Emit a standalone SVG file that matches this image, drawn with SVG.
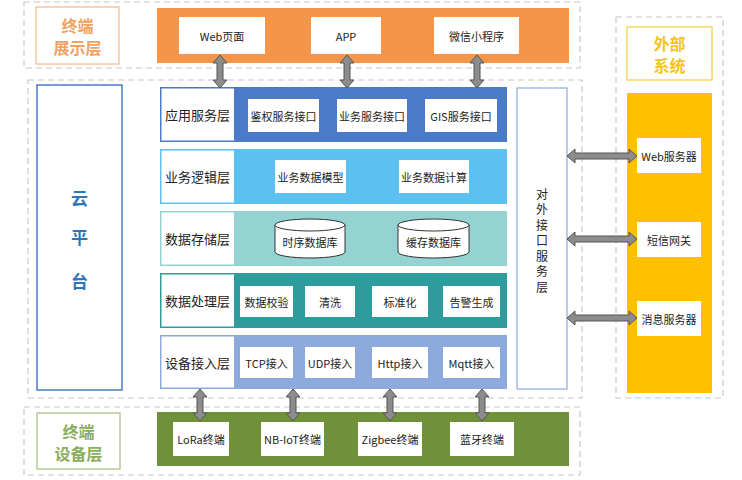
<svg xmlns="http://www.w3.org/2000/svg" width="742" height="480" viewBox="0 0 742 480">
<style>
.dash{fill:none;stroke:#c8c8c8;stroke-width:1.2;stroke-dasharray:6 4}
.wb{fill:#ffffff}
.t{font-family:"Noto Sans CJK SC","Liberation Sans",sans-serif;font-size:11px;fill:#222;text-anchor:middle;dominant-baseline:central}
.lt{font-family:"Noto Sans CJK SC","Liberation Sans",sans-serif;font-size:13px;fill:#222;text-anchor:middle;dominant-baseline:central}
.vt{font-family:"Noto Sans CJK SC","Liberation Sans",sans-serif;font-size:12px;fill:#222;text-anchor:middle;dominant-baseline:central}
.big{font-family:"Noto Sans CJK SC","Liberation Sans",sans-serif;font-size:16px;font-weight:bold;text-anchor:middle;dominant-baseline:central}
.arr{fill:#8c8c8c;stroke:#555;stroke-width:1}
.cyl{fill:#fff;stroke:#333;stroke-width:1}
</style>
<rect width="742" height="480" fill="#ffffff"/>

<!-- dashed containers -->
<rect class="dash" x="24" y="2" width="556" height="66"/>
<rect class="dash" x="28" y="80" width="554" height="318"/>
<rect class="dash" x="616" y="17" width="107" height="381"/>
<rect class="dash" x="24" y="407" width="556" height="68"/>

<!-- 终端展示层 -->
<g id="display-layer">
<rect x="36" y="7" width="83" height="57" fill="#fff" stroke="#f4c8a0" stroke-width="1.5"/>
<text class="big" x="77.5" y="24.5" fill="#f3a25e">终端</text>
<text class="big" x="77.5" y="46.5" fill="#f3a25e">展示层</text>
<rect x="157" y="8" width="412" height="55" fill="#f4954a"/>
</g>
<g id="web-page"><rect class="wb" x="179" y="17" width="86" height="37"/><text class="t" x="222" y="35.5">Web页面</text></g>
<g id="app"><rect class="wb" x="311" y="17" width="70" height="37"/><text class="t" x="346" y="35.5">APP</text></g>
<g id="wechat"><rect class="wb" x="434" y="17" width="85" height="37"/><text class="t" x="476.5" y="35.5">微信小程序</text></g>

<!-- 云平台 -->
<g id="cloud">
<rect x="37" y="85" width="85" height="305" fill="#fff" stroke="#4a7cc0" stroke-width="1.5"/>
<text class="big" x="79.5" y="197" fill="#2e75b6" style="font-size:17px">云</text>
<text class="big" x="79.5" y="236" fill="#2e75b6" style="font-size:17px">平</text>
<text class="big" x="79.5" y="280" fill="#2e75b6" style="font-size:17px">台</text>
</g>

<!-- 应用服务层 -->
<g id="app-service-layer">
<rect x="160" y="87" width="347" height="55" fill="#4a7ac8"/>
<rect x="160.75" y="87.75" width="74" height="53.5" fill="#fff" stroke="#4a7ac8" stroke-width="1.5"/>
<text class="lt" x="197.5" y="114.5">应用服务层</text>
</g>
<g id="auth-api"><rect class="wb" x="248" y="99" width="71" height="33"/><text class="t" x="283.5" y="115.5">鉴权服务接口</text></g>
<g id="biz-api"><rect class="wb" x="337" y="99" width="70" height="33"/><text class="t" x="372" y="115.5">业务服务接口</text></g>
<g id="gis-api"><rect class="wb" x="425" y="99" width="72" height="33"/><text class="t" x="461" y="115.5">GIS服务接口</text></g>

<!-- 业务逻辑层 -->
<g id="biz-logic-layer">
<rect x="160" y="149" width="347" height="55" fill="#5cc0f0"/>
<rect x="160.75" y="149.75" width="74" height="53.5" fill="#fff" stroke="#5cc0f0" stroke-width="1.5"/>
<text class="lt" x="197.5" y="176.5">业务逻辑层</text>
</g>
<g id="biz-model"><rect class="wb" x="275" y="160" width="71" height="33"/><text class="t" x="310.5" y="176.5">业务数据模型</text></g>
<g id="biz-calc"><rect class="wb" x="399" y="160" width="70" height="33"/><text class="t" x="434" y="176.5">业务数据计算</text></g>

<!-- 数据存储层 -->
<g id="storage-layer">
<rect x="160" y="211" width="347" height="55" fill="#95d3d3"/>
<rect x="160.75" y="211.75" width="74" height="53.5" fill="#fff" stroke="#95d3d3" stroke-width="1.5"/>
<text class="lt" x="197.5" y="238.5">数据存储层</text>
</g>
<g id="tsdb">
<path class="cyl" d="M275,225 v27 a35,6 0 0 0 70,0 v-27"/>
<ellipse class="cyl" cx="310" cy="225" rx="35" ry="6"/>
<text class="t" x="310" y="242">时序数据库</text>
</g>
<g id="cachedb">
<path class="cyl" d="M398,225 v27 a35.5,6 0 0 0 71,0 v-27"/>
<ellipse class="cyl" cx="433.5" cy="225" rx="35.5" ry="6"/>
<text class="t" x="433.5" y="242">缓存数据库</text>
</g>

<!-- 数据处理层 -->
<g id="process-layer">
<rect x="160" y="273" width="347" height="55" fill="#2e9c9c"/>
<rect x="160.75" y="273.75" width="74" height="53.5" fill="#fff" stroke="#2e9c9c" stroke-width="1.5"/>
<text class="lt" x="197.5" y="300.5">数据处理层</text>
</g>
<g id="validate"><rect class="wb" x="240" y="286" width="53" height="31"/><text class="t" x="266.5" y="301.5">数据校验</text></g>
<g id="clean"><rect class="wb" x="305" y="286" width="50" height="31"/><text class="t" x="330" y="301.5">清洗</text></g>
<g id="normalize"><rect class="wb" x="372" y="286" width="56" height="31"/><text class="t" x="400" y="301.5">标准化</text></g>
<g id="alarm"><rect class="wb" x="443" y="286" width="57" height="31"/><text class="t" x="471.5" y="301.5">告警生成</text></g>

<!-- 设备接入层 -->
<g id="access-layer">
<rect x="160" y="335" width="347" height="54" fill="#8eaadc"/>
<rect x="160.75" y="335.75" width="74" height="52.5" fill="#fff" stroke="#8eaadc" stroke-width="1.5"/>
<text class="lt" x="197.5" y="362">设备接入层</text>
</g>
<g id="tcp"><rect class="wb" x="240" y="347" width="53" height="31"/><text class="t" x="266.5" y="362.5">TCP接入</text></g>
<g id="udp"><rect class="wb" x="305" y="347" width="50" height="31"/><text class="t" x="330" y="362.5">UDP接入</text></g>
<g id="http"><rect class="wb" x="372" y="347" width="56" height="31"/><text class="t" x="400" y="362.5">Http接入</text></g>
<g id="mqtt"><rect class="wb" x="443" y="347" width="57" height="31"/><text class="t" x="471.5" y="362.5">Mqtt接入</text></g>

<!-- 对外接口服务层 -->
<g id="external-api">
<rect x="517" y="88" width="50" height="301" fill="#fff" stroke="#8eaadc" stroke-width="1.2"/>
<text class="vt" x="542" y="193">对</text>
<text class="vt" x="542" y="208.5">外</text>
<text class="vt" x="542" y="224">接</text>
<text class="vt" x="542" y="239.5">口</text>
<text class="vt" x="542" y="255">服</text>
<text class="vt" x="542" y="270.5">务</text>
<text class="vt" x="542" y="286">层</text>
</g>

<!-- 外部系统 -->
<g id="external-system">
<rect x="627" y="27" width="85" height="53" fill="#fff" stroke="#f5d860" stroke-width="1.5"/>
<text class="big" x="669.5" y="42.5" fill="#f5c518">外部</text>
<text class="big" x="669.5" y="64.5" fill="#f5c518">系统</text>
<rect x="627" y="93" width="85" height="300" fill="#ffc000"/>
</g>
<g id="web-server"><rect class="wb" x="637" y="138" width="64" height="35"/><text class="t" x="669" y="155.5">Web服务器</text></g>
<g id="sms-gateway"><rect class="wb" x="637" y="222" width="64" height="35"/><text class="t" x="669" y="239.5">短信网关</text></g>
<g id="msg-server"><rect class="wb" x="637" y="301" width="64" height="35"/><text class="t" x="669" y="318.5">消息服务器</text></g>

<!-- 终端设备层 -->
<g id="device-layer">
<rect x="37" y="413" width="83" height="56" fill="#fff" stroke="#b5c99a" stroke-width="1.5"/>
<text class="big" x="78.5" y="430.5" fill="#8aae5e">终端</text>
<text class="big" x="78.5" y="452.5" fill="#8aae5e">设备层</text>
<rect x="157" y="412" width="412" height="54" fill="#6f913a"/>
</g>
<g id="lora"><rect class="wb" x="173" y="422" width="56" height="34"/><text class="t" x="201" y="439">LoRa终端</text></g>
<g id="nbiot"><rect class="wb" x="261" y="422" width="63" height="34"/><text class="t" x="292.5" y="439">NB-IoT终端</text></g>
<g id="zigbee"><rect class="wb" x="358" y="422" width="64" height="34"/><text class="t" x="390" y="439">Zigbee终端</text></g>
<g id="bluetooth"><rect class="wb" x="450" y="422" width="64" height="34"/><text class="t" x="482" y="439">蓝牙终端</text></g>

<!-- connectors -->
<g id="connectors">
<path class="arr" d="M220,55 L227,63 L223,63 L223,80 L227,80 L220,88 L213,80 L217,80 L217,63 L213,63 Z"/>
<path class="arr" d="M347,55 L354,63 L350,63 L350,80 L354,80 L347,88 L340,80 L344,80 L344,63 L340,63 Z"/>
<path class="arr" d="M477,55 L484,63 L480,63 L480,80 L484,80 L477,88 L470,80 L474,80 L474,63 L470,63 Z"/>
<path class="arr" d="M200,389 L207,397 L203,397 L203,413 L207,413 L200,421 L193,413 L197,413 L197,397 L193,397 Z"/>
<path class="arr" d="M293,389 L300,397 L296,397 L296,413 L300,413 L293,421 L286,413 L290,413 L290,397 L286,397 Z"/>
<path class="arr" d="M390,389 L397,397 L393,397 L393,413 L397,413 L390,421 L383,413 L387,413 L387,397 L383,397 Z"/>
<path class="arr" d="M482,389 L489,397 L485,397 L485,413 L489,413 L482,421 L475,413 L479,413 L479,397 L475,397 Z"/>
<path class="arr" d="M567,156 L575,149 L575,153 L629,153 L629,149 L637,156 L629,163 L629,159 L575,159 L575,163 Z"/>
<path class="arr" d="M567,239 L575,232 L575,236 L629,236 L629,232 L637,239 L629,246 L629,242 L575,242 L575,246 Z"/>
<path class="arr" d="M567,318 L575,311 L575,315 L629,315 L629,311 L637,318 L629,325 L629,321 L575,321 L575,325 Z"/>
</g>
</svg>
